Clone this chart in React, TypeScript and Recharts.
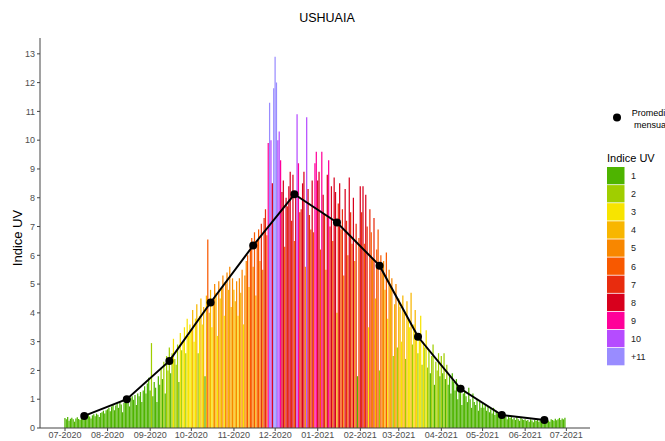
import React from "react";
import { ComposedChart, Bar, Line, XAxis, YAxis, Cell } from "recharts";

const monthLabels = [
  "07-2020", "08-2020", "09-2020", "10-2020", "11-2020", "12-2020",
  "01-2021", "02-2021", "03-2021", "04-2021", "05-2021", "06-2021", "07-2021",
];

const jul2020 = [0.35, 0.3, 0.38, 0.25, 0.32, 0.36, 0.3, 0.22, 0.33, 0.37, 0.31, 0.28, 0.35, 0.4, 0.38, 0.42, 0.36, 0.45, 0.4, 0.33, 0.44, 0.48, 0.41, 0.5, 0.46, 0.38, 0.52, 0.55, 0.6, 0.5, 0.62];
const aug2020 = [0.65, 0.7, 0.58, 0.75, 0.8, 0.62, 0.78, 0.85, 0.7, 0.9, 0.82, 0.55, 0.88, 0.95, 1.0, 0.92, 0.75, 1.05, 1.1, 0.98, 1.15, 0.8, 1.2, 1.1, 1.25, 0.9, 1.3, 1.45, 1.2, 1.55, 1.75];
const sep2020 = [1.3, 2.95, 1.1, 1.6, 1.4, 0.9, 1.8, 1.5, 2.1, 1.7, 2.3, 1.2, 2.5, 2.0, 2.8, 1.9, 2.6, 3.1, 2.4, 2.2, 2.9, 1.6, 3.3, 2.7, 3.0, 3.5, 2.6, 3.8, 3.2, 3.6];
const oct2020 = [3.4, 4.1, 3.0, 3.8, 4.3, 2.6, 3.9, 4.5, 3.6, 4.2, 1.8, 4.6, 6.55, 4.0, 4.8, 3.5, 4.4, 5.0, 4.7, 3.2, 5.1, 4.5, 4.9, 5.3, 3.9, 5.0, 5.4, 4.8, 5.6, 4.2, 5.2];
const nov2020 = [4.8, 4.4, 5.1, 3.9, 5.2, 4.7, 5.5, 3.6, 5.3, 5.8, 6.0, 4.9, 6.3, 6.6, 5.6, 6.8, 4.6, 6.5, 6.9, 5.8, 7.1, 5.5, 7.3, 7.6, 6.7, 9.9, 11.3, 10.0, 8.5, 11.8];
const dec2020 = [12.9, 12.0, 10.0, 10.3, 9.3, 8.2, 8.6, 6.3, 8.0, 7.7, 8.4, 8.9, 7.2, 8.8, 6.5, 8.1, 10.9, 9.2, 7.5, 7.6, 8.5, 8.9, 5.6, 10.8, 8.3, 7.4, 6.9, 8.6, 6.8, 9.2, 9.6];
const jan2021 = [8.6, 8.9, 6.2, 9.6, 8.1, 7.4, 5.5, 8.8, 9.3, 7.0, 8.4, 6.5, 8.7, 8.2, 4.0, 7.8, 8.5, 6.9, 7.6, 5.3, 8.3, 7.2, 6.0, 8.7, 7.5, 6.4, 8.0, 5.8, 7.1, 1.8, 6.6];
const feb2021 = [8.4, 7.5, 8.4, 6.4, 8.1, 7.0, 3.5, 7.6, 6.8, 5.9, 7.3, 4.5, 6.2, 6.9, 2.0, 6.0, 5.4, 5.8, 4.8, 6.1, 3.8, 5.5, 4.9, 5.2, 2.5, 4.3, 5.0, 2.8];
const mar2021 = [4.5, 4.2, 3.0, 4.6, 4.0, 2.4, 4.4, 3.8, 3.5, 4.7, 2.9, 3.6, 4.1, 3.3, 2.6, 3.2, 3.9, 2.2, 3.0, 2.8, 3.4, 2.1, 2.7, 1.9, 2.5, 2.9, 1.5, 2.3, 2.0, 2.6, 1.8];
const apr2021 = [2.5, 1.9, 2.6, 1.7, 2.2, 1.5, 1.8, 1.2, 1.9, 1.6, 1.3, 1.7, 1.0, 1.4, 1.5, 0.8, 1.2, 1.3, 1.1, 0.9, 1.4, 1.0, 0.7, 1.2, 0.9, 0.8, 1.0, 0.6, 0.9, 0.7];
const may2021 = [0.85, 0.7, 0.8, 0.6, 0.75, 0.55, 0.65, 0.5, 0.7, 0.45, 0.6, 0.5, 0.4, 0.55, 0.45, 0.35, 0.5, 0.4, 0.3, 0.45, 0.35, 0.4, 0.3, 0.35, 0.28, 0.4, 0.3, 0.25, 0.35, 0.3, 0.28];
const jun2021 = [0.3, 0.25, 0.28, 0.22, 0.3, 0.26, 0.2, 0.28, 0.24, 0.3, 0.22, 0.27, 0.25, 0.2, 0.28, 0.3, 0.24, 0.26, 0.22, 0.3, 0.28, 0.25, 0.32, 0.27, 0.3, 0.35, 0.28, 0.33, 0.3, 0.36];

const monthlyAverage = [0.42, 1.0, 2.33, 4.36, 6.34, 8.12, 7.14, 5.64, 3.17, 1.36, 0.45, 0.28];

const uvLevels = ["1", "2", "3", "4", "5", "6", "7", "8", "9", "10", "+11"];
const uvColors = ["#4eb400", "#a0ce00", "#f7e400", "#f8b600", "#f88700", "#f85900", "#e82c0e", "#d8001d", "#ff0099", "#b54cff", "#998cff"];
const yTicks = [0, 1, 2, 3, 4, 5, 6, 7, 8, 9, 10, 11, 12, 13];

const dailyByMonth = [jul2020, aug2020, sep2020, oct2020, nov2020, dec2020, jan2021, feb2021, mar2021, apr2021, may2021, jun2021];

const START = Date.UTC(2020, 6, 1);
const DAY = 86400000;

type Row = { x: number; uv: number; avg: number | null };
const rows: Row[] = [];
dailyByMonth.forEach((vals, m) => {
  vals.forEach((v, i) => {
    const t = Date.UTC(2020, 6 + m, 1 + i);
    rows.push({ x: (t - START) / DAY, uv: v, avg: i === 14 ? monthlyAverage[m] : null });
  });
});
const monthTicks = monthLabels.map((_, k) => (Date.UTC(2020, 6 + k, 1) - START) / DAY);
const tickLabel = (v: number) => {
  const k = monthTicks.indexOf(v);
  return k >= 0 ? monthLabels[k] : "";
};
const cat = (v: number) => Math.min(11, Math.max(1, Math.floor(v)));

const FONT = "'Liberation Sans', Arial, Helvetica, sans-serif";
const AXIS = "#444444";

export default function App() {
  return (
    <div style={{ position: "absolute", left: 0, top: 0, width: 665, height: 441, background: "#fff", fontFamily: FONT, overflow: "hidden" }}>
      <ComposedChart width={665} height={441} data={rows} margin={{ top: 38, right: 75, bottom: 0, left: 10 }}>
        <XAxis
          type="number"
          dataKey="x"
          domain={[-18.2, 382.2]}
          allowDataOverflow
          ticks={monthTicks}
          interval={0}
          tickFormatter={tickLabel}
          height={13}
          tickSize={3}
          tickMargin={1}
          stroke={AXIS}
          tickLine={{ stroke: AXIS }}
          tick={{ fontSize: 9, fill: "#4d4d4d", fontFamily: FONT }}
        />
        <YAxis
          type="number"
          domain={[0, 13.55]}
          allowDataOverflow
          ticks={yTicks}
          interval={0}
          width={30}
          tickSize={3}
          tickMargin={2}
          stroke={AXIS}
          tickLine={{ stroke: AXIS }}
          tick={{ fontSize: 9, fill: "#4d4d4d", fontFamily: FONT }}
        />
        <Bar dataKey="uv" barSize={1.38} isAnimationActive={false}>
          {rows.map((r, i) => (
            <Cell key={i} fill={uvColors[cat(r.uv) - 1]} />
          ))}
        </Bar>
        <Line
          dataKey="avg"
          connectNulls
          stroke="#000"
          strokeWidth={2}
          dot={{ r: 4, fill: "#000", stroke: "#000", strokeWidth: 0 }}
          activeDot={false}
          isAnimationActive={false}
        />
      </ComposedChart>
      <svg width={665} height={441} style={{ position: "absolute", left: 0, top: 0, pointerEvents: "none", overflow: "visible" }} fontFamily={FONT}>
        <text x={327} y={22} textAnchor="middle" fontSize={12.5} fill="#000">USHUAIA</text>
        <text x={21.5} y={238} textAnchor="middle" fontSize={13} fill="#000" transform="rotate(-90 21.5 238)">Indice UV</text>
        <circle cx={617} cy={117.5} r={4} fill="#000" />
        <text x={651} y={116} textAnchor="middle" fontSize={9} fill="#000">Promedio</text>
        <text x={651} y={127.5} textAnchor="middle" fontSize={9} fill="#000">mensual</text>
        <text x={607} y={162} fontSize={11} fill="#000">Indice UV</text>
        {uvLevels.map((lab, k) => (
          <g key={lab}>
            <rect x={607} y={167 + k * 18.1} width={17.5} height={17.3} fill={uvColors[k]} />
            <text x={631} y={167 + k * 18.1 + 12} fontSize={9} fill="#222">{lab}</text>
          </g>
        ))}
      </svg>
    </div>
  );
}
